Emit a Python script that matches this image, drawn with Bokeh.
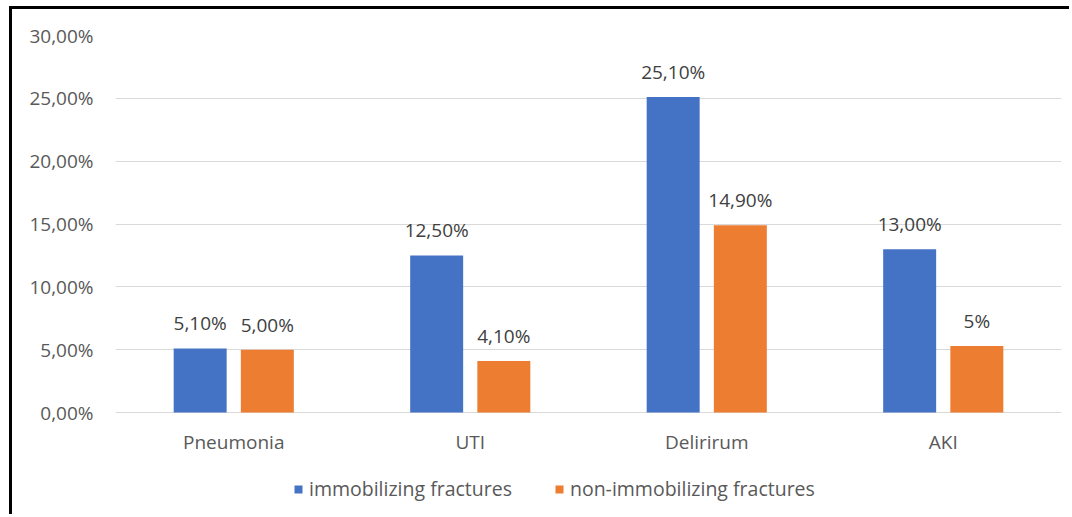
from bokeh.plotting import figure
from bokeh.models import (ColumnDataSource, FactorRange, FixedTicker, CustomJSTickFormatter,
                          Legend, LegendItem, Range1d)
from bokeh.transform import dodge
from bokeh.core.properties import value
from bokeh.embed import file_html
from bokeh.resources import INLINE

categories = ["Pneumonia", "UTI", "Delirirum", "AKI"]
immobilizing = [5.1, 12.5, 25.1, 13.0]
non_immobilizing = [5.0, 4.1, 14.9, 5.3]
immobilizing_labels = ["5,10%", "12,50%", "25,10%", "13,00%"]
non_immobilizing_labels = ["5,00%", "4,10%", "14,90%", "5%"]
y_ticks = [0, 5, 10, 15, 20, 25, 30]
series_names = ["immobilizing fractures", "non-immobilizing fractures"]

BLUE = "#4472C4"
ORANGE = "#ED7D31"
FONT = "Open Sans"
FS = "19px"

src = ColumnDataSource(dict(cat=categories, a=immobilizing, b=non_immobilizing,
                            la=immobilizing_labels, lb=non_immobilizing_labels,
                            base=[0] * len(categories)))

# the frame reaches down to the legend; 30 units span 377 px
y_min = -30 * 100 / 377
p = figure(x_range=FactorRange(*categories), y_range=Range1d(y_min, 30),
           frame_width=946, frame_height=477,
           min_border_left=103, min_border_right=8, min_border_top=26, min_border_bottom=2,
           output_backend="svg", toolbar_location=None)
p.styles = {"margin-left": "9px", "margin-top": "6px",
            "border-top": "3px solid black", "border-left": "3px solid black"}
p.outline_line_color = None
p.background_fill_color = "white"
p.border_fill_color = "white"

r1 = p.vbar(x=dodge("cat", -0.142, range=p.x_range), top="a", width=0.224, source=src,
            fill_color=BLUE, line_color=None)
r2 = p.vbar(x=dodge("cat", 0.142, range=p.x_range), top="b", width=0.224, source=src,
            fill_color=ORANGE, line_color=None)

p.text(x=dodge("cat", -0.142, range=p.x_range), y="a", text="la", source=src,
       text_align="center", text_baseline="alphabetic", y_offset=-25,
       text_font=value(FONT), text_font_size=FS, text_color="#404040")
p.text(x=dodge("cat", 0.142, range=p.x_range), y="b", text="lb", source=src,
       text_align="center", text_baseline="alphabetic", y_offset=-25,
       text_font=value(FONT), text_font_size=FS, text_color="#404040")

# category labels under the zero line
p.text(x="cat", y="base", text="cat", source=src, text_align="center",
       text_baseline="middle", y_offset=29,
       text_font=value(FONT), text_font_size=FS, text_color="#595959")

# axes
p.xaxis.visible = False
p.yaxis.ticker = FixedTicker(ticks=y_ticks)
p.yaxis.formatter = CustomJSTickFormatter(code="return tick.toFixed(2).replace('.', ',') + '%';")
ax = p.yaxis
ax.axis_line_color = None
ax.major_tick_line_color = None
ax.minor_tick_line_color = None
ax.major_tick_out = 0
ax.major_tick_in = 0
ax.major_label_text_font = FONT
ax.major_label_text_font_size = FS
ax.major_label_text_color = "#595959"
ax.major_label_standoff = 22

p.xgrid.grid_line_color = None
p.ygrid.grid_line_color = "#D9D9D9"
p.ygrid.grid_line_width = 1

legend = Legend(items=[LegendItem(label=series_names[0], renderers=[r1]),
                       LegendItem(label=series_names[1], renderers=[r2])],
                orientation="horizontal", location=(178, 10),
                glyph_width=10, glyph_height=10, label_standoff=6, spacing=42,
                padding=0, margin=0, border_line_color=None, background_fill_alpha=0,
                label_text_font=FONT, label_text_font_size="19.5px", label_text_color="#595959")
p.add_layout(legend)

open("out.html", "w").write(file_html(p, INLINE))
